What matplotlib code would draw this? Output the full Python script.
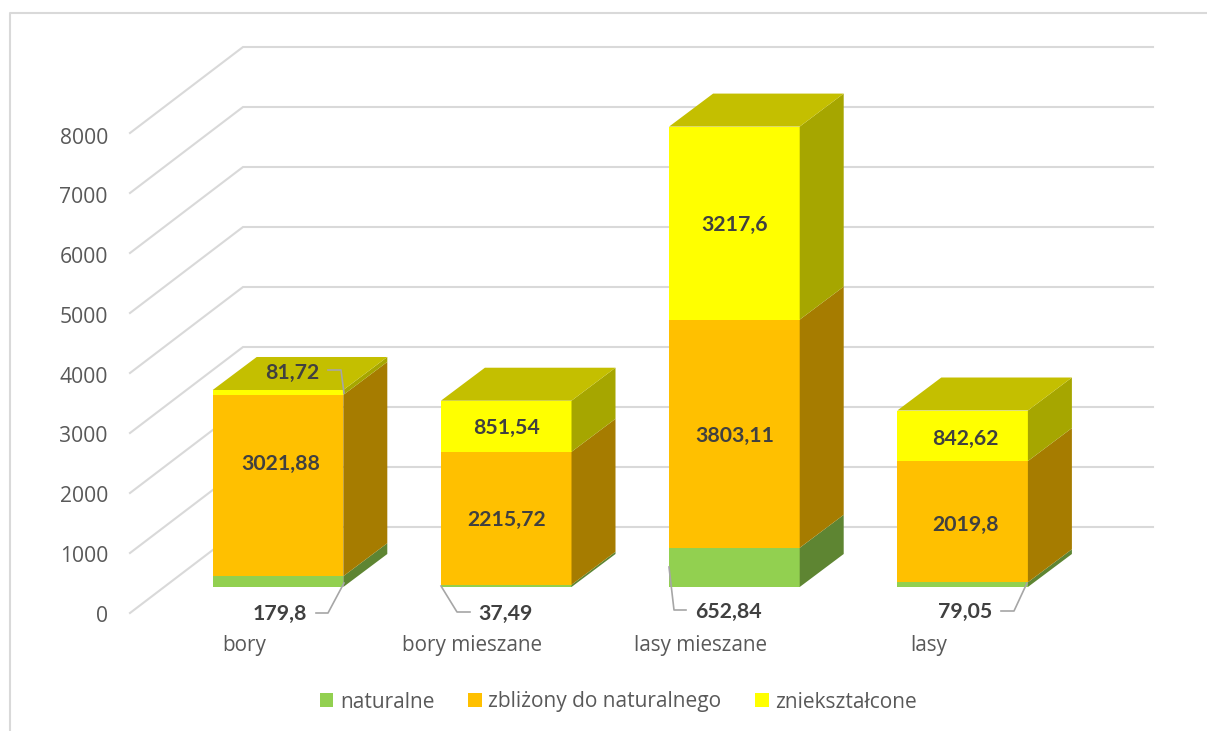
import matplotlib
matplotlib.use("Agg")
import matplotlib.pyplot as plt
from matplotlib.patches import Polygon, Patch

# ---- data ----
categories = ["bory", "bory mieszane", "lasy mieszane", "lasy"]
naturalne = [179.8, 37.49, 652.84, 79.05]
zblizony = [3021.88, 2215.72, 3803.11, 2019.8]
znieksztalcone = [81.72, 851.54, 3217.6, 842.62]
series_names = ["naturalne", "zbliżony do naturalnego", "zniekształcone"]
y_ticks = [0, 1000, 2000, 3000, 4000, 5000, 6000, 7000, 8000]
label_text = {
    "naturalne": ["179,8", "37,49", "652,84", "79,05"],
    "zblizony": ["3021,88", "2215,72", "3803,11", "2019,8"],
    "znieksztalcone": ["81,72", "851,54", "3217,6", "842,62"],
}

# ---- styling / projection ----
FACE = ["#92D050", "#FFC000", "#FFFF00"]
SIDE = ["#5E8532", "#A67C00", "#A6A600"]
TOP = "#C4BF00"
GRID = "#D9D9D9"
TICK = "#595959"
LABEL = "#404040"
FONT = "Open Sans"
BOLD = "Lato"

SCALE = 0.06           # pixels per unit
BASE_Y = 587.0         # front face of bars
BAR_X0, BAR_STEP, BAR_W = 212.7, 228.2, 130.6
DX, DY = 44.0, -33.0   # bar depth
WALL_X, WALL_Y, WALL_R = 243.0, 527.0, 1153.0
FRONT_X, FRONT_Y = 130.0, 613.0


def py(v, base=BASE_Y):
    return base - v * SCALE


fig = plt.figure(figsize=(12.07, 7.31), dpi=100)
ax = fig.add_axes([0, 0, 1, 1])
ax.set_xlim(0, 1207)
ax.set_ylim(731, 0)
ax.axis("off")

# chart frame
ax.plot([1207, 9.5, 9.5], [13, 13, 731], color=GRID, lw=1.5, zorder=1)

# gridlines on wall and floor, with tick labels
for t in y_ticks:
    ax.plot([FRONT_X, WALL_X, WALL_R], [py(t, FRONT_Y), py(t, WALL_Y), py(t, WALL_Y)],
            color=GRID, lw=1.5, zorder=1, solid_joinstyle="miter")
    ax.text(108, 616.2 - t * 0.05975, str(t), ha="right", va="center",
            fontsize=15.2, color=TICK, family=FONT)

# bars
stacks = [naturalne, zblizony, znieksztalcone]
for i, cat in enumerate(categories):
    x0 = BAR_X0 + i * BAR_STEP
    x1 = x0 + BAR_W
    bottom = 0.0
    for s, vals in enumerate(stacks):
        v = vals[i]
        yb, yt = py(bottom), py(bottom + v)
        ax.add_patch(Polygon([(x0, yb), (x1, yb), (x1, yt), (x0, yt)],
                             closed=True, fc=FACE[s], ec="none", zorder=3))
        ax.add_patch(Polygon([(x1, yb), (x1 + DX, yb + DY), (x1 + DX, yt + DY), (x1, yt)],
                             closed=True, fc=SIDE[s], ec="none", zorder=3))
        bottom += v
    yt = py(bottom)
    ax.add_patch(Polygon([(x0, yt), (x1, yt), (x1 + DX, yt + DY), (x0 + DX, yt + DY)],
                         closed=True, fc=TOP, ec="none", zorder=3))
    # category label, offset to the left of the bar centre as in the original
    ax.text(x0 + 31.5, 645, cat, ha="center", va="center", fontsize=14.9,
            color=TICK, family=FONT, zorder=5)


def seg_mid(i, s):
    below = sum(stacks[k][i] for k in range(s))
    return py(below + stacks[s][i] / 2)


def bar_mid(i):
    return BAR_X0 + i * BAR_STEP + BAR_W / 2


LBL = dict(ha="center", va="center", fontsize=15.3, fontweight="bold", color=LABEL,
           family=BOLD, zorder=6)

# data labels inside bars: (bar, series, key, x offset, y offset)
inner = [(0, 1, "zblizony", 3, -22), (1, 1, "zblizony", 0, 2), (1, 2, "znieksztalcone", 0, 2),
         (2, 1, "zblizony", 0, 2), (2, 2, "znieksztalcone", 0, 2),
         (3, 1, "zblizony", 3, 3), (3, 2, "znieksztalcone", 3, 3)]
for i, s, key, ox, oy in inner:
    ax.text(bar_mid(i) + ox, seg_mid(i, s) + oy, label_text[key][i], **LBL)

# outer labels with leader lines: (bar, series key, label xy, leader xs, leader ys)
outer = [
    (0, "znieksztalcone", (292, 373), [328, 341, 344], [370, 370, 393]),
    (0, "naturalne", (280, 614), [316, 328, 344], [613, 613, 583]),
    (1, "naturalne", (505, 614), [470, 457, 441], [612, 612, 586]),
    (2, "naturalne", (728, 612), [686, 674, 669], [610, 610, 567]),
    (3, "naturalne", (965, 612), [1001, 1014, 1027], [611, 611, 583]),
]
for i, key, xy, lx, ly in outer:
    ax.text(xy[0], xy[1], label_text[key][i], **LBL)
    ax.plot(lx, ly, color="#A6A6A6", lw=1.2, zorder=5)

# legend
handles = [Patch(fc=c, ec="none", label=n) for c, n in zip(FACE, series_names)]
leg = ax.legend(handles=handles, loc="center", bbox_to_anchor=(618.5, 702),
                bbox_transform=ax.transData, ncol=3, frameon=False,
                prop={"family": FONT, "size": 15}, labelcolor=TICK,
                handlelength=0.65, handleheight=0.65, handletextpad=0.32,
                columnspacing=1.62, borderpad=0, borderaxespad=0)

fig.savefig("out.png", dpi=100)
